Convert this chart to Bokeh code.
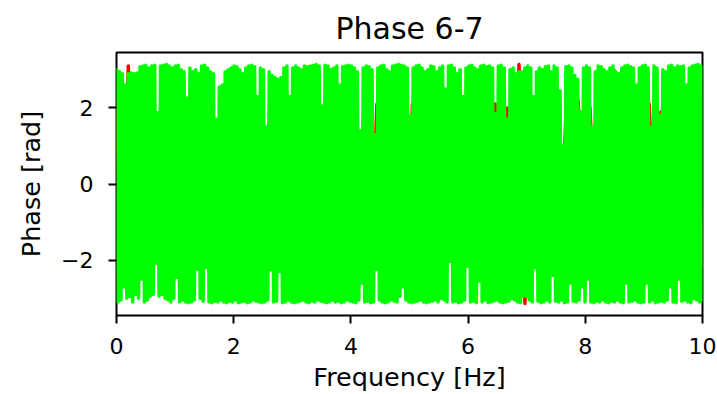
import numpy as np
from bokeh.plotting import figure
from bokeh.models import Range1d, FixedTicker
from bokeh.embed import file_html
from bokeh.resources import INLINE

# ---- data ----
title_text = "Phase 6-7"
x_label = "Frequency [Hz]"
y_label = "Phase [rad]"
x_min, x_max = 0.0, 10.0
y_lim = 3.456
x_ticks = [0, 2, 4, 6, 8, 10]
y_ticks = [-2, 0, 2]
y_tick_labels = {-2: "\u22122", 0: "0", 2: "2"}

# green series: successive upper / lower excursions of the phase trace
green_tops = [
    3.05, 2.95, 2.9, 2.6, 2.9, 2.92, 2.9, 2.92, 3.08, 3.1, 3.12, 3.05, 3.1, 3.12, 1.87, 3.1, 3.12, 3.14, 3.1, 3.05,
    3.1, 3.12, 3.0, 2.95, 2.26, 3.05, 2.95, 3.0, 2.9, 3.1, 3.12, 3.05, 2.95, 2.9, 1.7, 2.55, 2.6, 2.95, 3.0, 3.05,
    3.1, 3.08, 3.0, 2.9, 3.05, 3.1, 3.12, 3.08, 2.3, 3.05, 3.0, 1.5, 2.95, 2.85, 2.8, 2.75, 2.8, 3.05, 3.1, 2.3,
    3.05, 3.1, 3.05, 3.0, 3.1, 3.08, 3.1, 3.12, 3.14, 3.1, 2.05, 3.12, 3.1, 3.0, 3.05, 3.1, 2.6, 3.08, 3.1, 3.12,
    3.1, 3.05, 2.95, 1.4, 3.05, 3.1, 3.08, 3.0, 1.3, 3.05, 3.1, 3.12, 3.0, 2.95, 3.1, 3.12, 3.14, 3.12, 3.1, 3.05,
    1.8, 3.05, 3.1, 3.12, 3.05, 2.95, 3.0, 3.1, 3.08, 2.95, 3.05, 3.1, 2.5, 3.1, 3.12, 3.05, 2.9, 3.0, 2.3, 3.05,
    3.1, 3.12, 3.05, 3.0, 3.1, 3.12, 3.08, 3.1, 3.05, 1.85, 3.1, 3.12, 3.05, 1.7, 3.0, 3.05, 2.9, 2.95, 2.95, 3.05,
    3.1, 3.05, 2.3, 2.95, 3.05, 3.0, 3.08, 3.1, 2.95, 3.1, 3.05, 2.45, 1.0, 3.08, 3.1, 3.05, 2.85, 2.75, 1.9, 3.05,
    3.1, 3.05, 1.5, 2.95, 3.1, 3.08, 3.0, 2.95, 3.05, 3.1, 2.95, 2.9, 3.05, 3.1, 3.12, 3.08, 3.05, 2.6, 3.05, 3.1,
    3.12, 3.05, 1.5, 3.1, 3.05, 1.8, 3.0, 2.95, 3.1, 3.12, 3.05, 3.1, 3.08, 3.1, 2.6, 3.05, 3.1, 3.12, 3.14, 3.1,
]
green_bottoms = [
    -3.1, -3.05, -2.7, -3.0, -2.95, -3.1, -2.9, -3.0, -2.5, -3.1, -3.05, -2.95, -2.9, -2.07, -2.95, -2.9, -3.0, -3.05, -3.1, -3.0,
    -2.46, -3.1, -3.05, -3.1, -3.12, -3.1, -3.05, -2.24, -3.0, -3.08, -2.2, -3.1, -3.12, -3.08, -3.1, -3.05, -3.1, -3.12, -3.08, -3.1,
    -3.05, -3.12, -3.1, -3.08, -3.12, -3.1, -3.05, -3.08, -3.1, -3.12, -3.1, -3.05, -2.26, -3.1, -3.08, -2.3, -3.12, -3.1, -3.05, -3.1,
    -3.12, -3.1, -3.08, -3.05, -3.1, -3.12, -3.08, -3.1, -3.05, -3.08, -3.1, -3.12, -3.1, -3.05, -3.1, -3.08, -3.12, -3.1, -3.05, -3.08,
    -3.1, -3.12, -3.05, -2.6, -3.1, -3.08, -3.12, -3.1, -2.24, -3.05, -3.1, -3.12, -3.1, -3.05, -3.08, -3.1, -2.95, -2.7, -3.05, -3.1,
    -3.12, -3.1, -3.08, -3.05, -3.1, -3.12, -3.1, -3.08, -3.05, -3.1, -3.0, -3.05, -3.1, -2.03, -3.1, -3.08, -3.12, -3.1, -3.05, -2.16,
    -3.1, -3.08, -3.12, -2.55, -3.1, -3.05, -3.12, -3.1, -3.08, -3.05, -3.1, -3.12, -3.1, -3.08, -3.0, -3.05, -3.1, -3.12, -2.95, -2.95,
    -3.05, -3.1, -2.2, -3.08, -3.12, -3.1, -3.05, -3.1, -2.4, -3.08, -3.1, -3.05, -3.12, -3.1, -2.6, -3.08, -3.1, -3.05, -2.7, -3.1,
    -2.5, -3.1, -3.12, -3.08, -3.1, -3.05, -3.1, -3.12, -3.08, -3.1, -3.05, -3.1, -3.12, -2.6, -3.1, -3.08, -3.05, -3.1, -3.12, -3.1,
    -2.6, -3.1, -3.05, -3.12, -3.1, -3.08, -3.1, -3.05, -2.7, -3.1, -3.12, -2.5, -3.08, -3.05, -3.1, -3.12, -3.0, -3.05, -3.1, -3.08,
]

# red series (mostly hidden beneath the green one)
red_tops = [
    2.0, 3.1, 2.1, 1.9, 2.2, 2.0, 2.1, 1.9, 2.0, 2.2, 2.1, 2.0, 1.9, 2.1, 2.0, 2.2, 2.1, 2.0, 1.9, 2.1,
    2.0, 2.2, 2.1, 1.9, 2.0, 2.1, 2.2, 2.0, 1.9, 2.1, 2.0, 2.2, 2.1, 2.0, 3.14, 2.1, 2.0, 1.9, 2.1, 2.2,
    2.0, 2.1, 3.0, 2.0, 2.2, 2.1, 1.9, 2.0, 2.1, 2.2,
]
red_bottoms = [
    -2.6, -2.8, -2.0, -2.1, -1.9, -2.2, -2.0, -2.1, -1.9, -2.0, -2.2, -2.1, -2.0, -1.9, -2.1, -2.0, -2.2, -2.1, -2.0, -1.9,
    -2.1, -2.0, -2.2, -2.1, -1.9, -2.0, -2.1, -2.2, -2.0, -1.9, -2.1, -2.0, -2.2, -2.1, -3.14, -2.0, -1.9, -2.1, -2.2, -2.0,
    -2.1, -1.9, -2.0, -2.2, -2.85, -2.1, -2.0, -1.9, -2.1, -2.2,
]


def interleave(tops, bottoms):
    out = np.empty(len(tops) + len(bottoms))
    out[0::2] = tops
    out[1::2] = bottoms
    return out


green_phase = interleave(green_tops, green_bottoms)
red_phase = interleave(red_tops, red_bottoms)
green_freq = np.linspace(x_min, x_max, len(green_phase))
red_freq = np.linspace(x_min, x_max, len(red_phase))

FONT = "DejaVu Sans"

p = figure(
    frame_width=586, frame_height=263,
    output_backend="svg", toolbar_location=None,
    x_range=Range1d(x_min, x_max), y_range=Range1d(-y_lim, y_lim),
    min_border_left=116, min_border_right=15, min_border_top=52, min_border_bottom=72,
)
p.title.text = title_text
p.title.align = "center"
p.title.text_font = FONT
p.title.text_font_size = "30px"
p.title.text_font_style = "normal"
p.title.text_color = "black"
p.title.standoff = 14

p.line(red_freq, red_phase, line_color="#ff0000", line_width=3.5, line_join="round")
p.line(green_freq, green_phase, line_color="#00ff00", line_width=3.5, line_join="round")

p.grid.visible = False
p.outline_line_color = "black"
p.outline_line_width = 2
p.outline_line_alpha = 1.0

for ax in (p.xaxis[0], p.yaxis[0]):
    ax.axis_line_color = None
    ax.major_tick_line_color = "black"
    ax.major_tick_line_width = 2
    ax.major_tick_out = 8
    ax.major_tick_in = 0
    ax.minor_tick_line_color = None
    ax.major_label_text_font = FONT
    ax.major_label_text_font_size = "22px"
    ax.major_label_text_color = "black"
    ax.axis_label_text_font = FONT
    ax.axis_label_text_font_size = "25.5px"
    ax.axis_label_text_font_style = "normal"
    ax.axis_label_text_color = "black"

p.xaxis.ticker = FixedTicker(ticks=x_ticks)
p.yaxis.ticker = FixedTicker(ticks=y_ticks)
p.yaxis.major_label_overrides = y_tick_labels
p.xaxis.axis_label = x_label
p.yaxis.axis_label = y_label
p.xaxis.major_label_standoff = 14
p.yaxis.major_label_standoff = 15
p.xaxis.axis_label_standoff = 5
p.yaxis.axis_label_standoff = 12

with open("out.html", "w") as f:
    f.write(file_html(p, INLINE))
